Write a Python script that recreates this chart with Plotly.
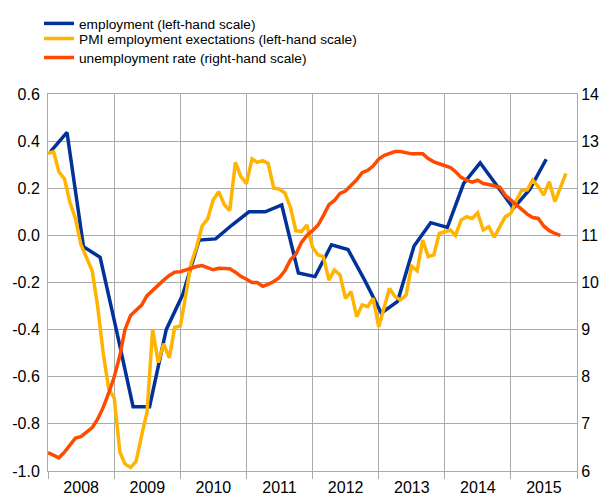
import plotly.graph_objects as go
import pandas as pd

# ---- data ----
emp_dates = pd.date_range("2007-12-15", periods=31, freq="3MS") + pd.Timedelta(days=14)
employment = [0.355, 0.437, -0.048, -0.093, -0.41, -0.727, -0.727, -0.40, -0.25, -0.02,
              -0.015, 0.045, 0.10, 0.10, 0.129, -0.16, -0.175, -0.04, -0.06, -0.19,
              -0.33, -0.28, -0.045, 0.054, 0.034, 0.221, 0.308, 0.212, 0.115, 0.195, 0.323]

pmi_dates = pd.date_range("2008-01-01", periods=95, freq="MS")
pmi = [0.348, 0.355, 0.27, 0.24, 0.14, 0.07, -0.04, -0.10, -0.15, -0.30,
       -0.50, -0.65, -0.69, -0.92, -0.97, -0.985, -0.96, -0.85, -0.75, -0.40,
       -0.54, -0.46, -0.52, -0.39, -0.385, -0.25, -0.12, -0.05, 0.04, 0.07,
       0.15, 0.185, 0.13, 0.105, 0.31, 0.25, 0.22, 0.325, 0.31, 0.317,
       0.305, 0.20, 0.197, 0.18, 0.12, 0.02, 0.016, 0.044, -0.05, -0.083,
       -0.09, -0.19, -0.147, -0.168, -0.267, -0.239, -0.345, -0.295, -0.303, -0.267,
       -0.388, -0.303, -0.225, -0.26, -0.274, -0.253, -0.13, -0.15, -0.02, -0.09,
       -0.083, 0.008, 0.015, 0.023, 0.0, 0.065, 0.079, 0.072, 0.096, 0.023,
       0.037, -0.008, 0.037, 0.079, 0.094, 0.15, 0.19, 0.193, 0.235, 0.207,
       0.171, 0.228, 0.143, 0.20, 0.263]

unemp_dates = pd.date_range("2008-01-01", periods=94, freq="MS")
unemployment = [6.39, 6.33, 6.28, 6.40, 6.55, 6.70, 6.73, 6.83, 6.92, 7.10,
                7.35, 7.65, 8.00, 8.45, 9.00, 9.30, 9.40, 9.52, 9.72, 9.84,
                9.95, 10.05, 10.15, 10.22, 10.23, 10.27, 10.30, 10.34, 10.36, 10.32,
                10.27, 10.30, 10.30, 10.29, 10.22, 10.13, 10.07, 10.00, 10.00, 9.92,
                9.96, 10.02, 10.10, 10.25, 10.48, 10.60, 10.85, 11.00, 11.10, 11.22,
                11.42, 11.65, 11.74, 11.89, 11.94, 12.05, 12.18, 12.33, 12.38, 12.47,
                12.62, 12.70, 12.74, 12.78, 12.78, 12.75, 12.73, 12.73, 12.73, 12.63,
                12.56, 12.52, 12.48, 12.44, 12.35, 12.23, 12.17, 12.13, 12.17, 12.10,
                12.08, 12.05, 12.02, 11.85, 11.75, 11.65, 11.55, 11.45, 11.38, 11.36,
                11.20, 11.10, 11.04, 11.00]

left_ticks = [-1.0, -0.8, -0.6, -0.4, -0.2, 0.0, 0.2, 0.4, 0.6]
left_labels = ["-1.0", "-0.8", "-0.6", "-0.4", "-0.2", "0.0", "0.2", "0.4", "0.6"]
right_ticks = [6, 7, 8, 9, 10, 11, 12, 13, 14]

BLUE = "#003299"
YELLOW = "#FFB400"
RED = "#FF4B00"
GRID = "#ABABAB"
FONT = "Liberation Sans, Arial, sans-serif"

fig = go.Figure()
fig.add_trace(go.Scatter(x=emp_dates, y=employment, mode="lines",
                         name="employment (left-hand scale)", legend="legend",
                         line=dict(color=BLUE, width=3.5)))
fig.add_trace(go.Scatter(x=pmi_dates, y=pmi, mode="lines",
                         name="PMI employment exectations (left-hand scale)",
                         legend="legend2",
                         line=dict(color=YELLOW, width=3.5)))
fig.add_trace(go.Scatter(x=unemp_dates, y=unemployment, mode="lines",
                         name="unemployment rate (right-hand scale)",
                         legend="legend3",
                         line=dict(color=RED, width=3.5), yaxis="y2"))

def leg(y):
    return dict(x=0.0516, y=y, xref="container", yref="container",
                xanchor="left", yanchor="top",
                font=dict(size=13.7), bgcolor="rgba(0,0,0,0)")

# page body has an 8px default margin, so the figure is 8px smaller and offset
fig.update_layout(
    width=601, height=487,
    margin=dict(l=40, r=32, t=86, b=24, autoexpand=False),
    paper_bgcolor="white", plot_bgcolor="white",
    font=dict(family=FONT, color="#000000", size=16),
    showlegend=True,
    legend=leg(1.008), legend2=leg(0.969), legend3=leg(0.930),
    xaxis=dict(type="date", range=["2008-01-01", "2016-01-01"],
               tick0="2008-01-01", dtick="M12", tickformat="%Y",
               ticklabelmode="period", ticks="outside", ticklen=7,
               tickcolor=GRID, showgrid=True, gridcolor=GRID, gridwidth=1,
               showline=True, linecolor=GRID, mirror=True, zeroline=False,
               ticklabelstandoff=-5,
               tickfont=dict(size=16), automargin=False),
    yaxis=dict(range=[-1.0, 0.6], tickvals=left_ticks, ticktext=left_labels,
               showgrid=True, gridcolor=GRID, gridwidth=1, zeroline=False,
               showline=True, linecolor=GRID, ticks="",
               ticklabelstandoff=4, tickfont=dict(size=16), automargin=False),
    yaxis2=dict(range=[6, 14], tickvals=right_ticks, overlaying="y", side="right",
                showgrid=False, zeroline=False, showline=True, linecolor=GRID,
                ticks="", ticklabelstandoff=0, tickfont=dict(size=16),
                automargin=False),
)

fig.write_html("out.html")
